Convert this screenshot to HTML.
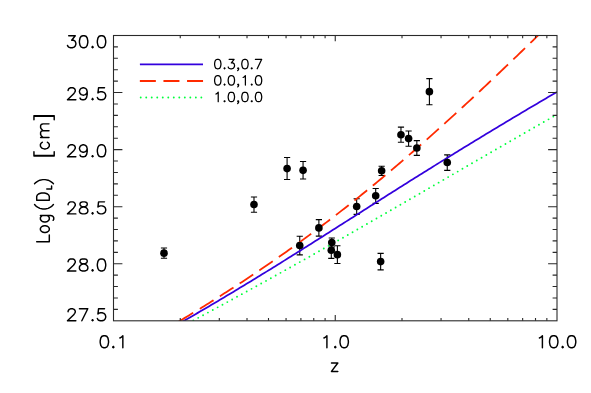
<!DOCTYPE html>
<html><head><meta charset="utf-8"><style>html,body{margin:0;padding:0;background:#fff;font-family:"Liberation Sans",sans-serif}svg{display:block}</style></head><body><svg width="591" height="393" viewBox="0 0 591 393">
<rect width="591" height="393" fill="#fff"/>
<defs><clipPath id="cp"><rect x="113.50" y="35.50" width="443.50" height="285.30"/></clipPath></defs>
<path d="M163.99 247.95V258.23 M160.89 247.95h6.2 M160.89 258.23h6.2 M253.99 197.00V212.26 M250.89 197.00h6.2 M250.89 212.26h6.2 M287.09 157.43V179.50 M283.99 157.43h6.2 M283.99 179.50h6.2 M303.06 161.50V179.00 M299.96 161.50h6.2 M299.96 179.00h6.2 M299.75 236.30V254.84 M296.65 236.30h6.2 M296.65 254.84h6.2 M318.88 219.58V236.16 M315.78 219.58h6.2 M315.78 236.16h6.2 M331.80 238.05V247.00 M328.70 238.05h6.2 M328.70 247.00h6.2 M331.29 242.00V258.40 M328.19 242.00h6.2 M328.19 258.40h6.2 M337.39 245.68V263.48 M334.29 245.68h6.2 M334.29 263.48h6.2 M356.67 198.80V214.40 M353.57 198.80h6.2 M353.57 214.40h6.2 M375.70 188.44V203.40 M372.60 188.44h6.2 M372.60 203.40h6.2 M380.64 253.34V269.92 M377.54 253.34h6.2 M377.54 269.92h6.2 M381.65 166.28V175.43 M378.55 166.28h6.2 M378.55 175.43h6.2 M400.97 127.10V142.20 M397.87 127.10h6.2 M397.87 142.20h6.2 M408.60 131.00V146.25 M405.50 131.00h6.2 M405.50 146.25h6.2 M416.84 140.65V155.40 M413.74 140.65h6.2 M413.74 155.40h6.2 M429.40 78.65V104.80 M426.30 78.65h6.2 M426.30 104.80h6.2 M447.26 154.87V170.40 M444.16 154.87h6.2 M444.16 170.40h6.2" fill="none" stroke="#000" stroke-width="1.1"/>
<g clip-path="url(#cp)" fill="none">
<polyline points="193.36,320.45 195.55,319.28 197.76,318.08 199.98,316.89 202.20,315.70 204.42,314.50 206.63,313.30 208.85,312.11 211.07,310.91 213.29,309.71 215.50,308.51 217.72,307.31 219.94,306.10 222.16,304.90 224.38,303.70 226.59,302.49 228.81,301.28 231.03,300.08 233.25,298.87 235.46,297.66 237.68,296.45 239.90,295.23 242.11,294.02 244.33,292.81 246.55,291.59 248.77,290.38 250.98,289.16 253.20,287.94 255.42,286.72 257.64,285.50 259.86,284.28 262.07,283.06 264.29,281.83 266.51,280.61 268.73,279.38 270.94,278.15 273.16,276.92 275.38,275.69 277.60,274.46 279.81,273.23 282.03,272.00 284.25,270.76 286.47,269.53 288.68,268.29 290.90,267.06 293.12,265.82 295.34,264.58 297.55,263.34 299.77,262.09 301.99,260.85 304.20,259.61 306.42,258.36 308.64,257.11 310.86,255.87 313.08,254.62 315.29,253.37 317.51,252.12 319.73,250.87 321.95,249.61 324.16,248.36 326.38,247.10 328.60,245.85 330.81,244.59 333.03,243.33 335.25,242.07 337.47,240.81 339.69,239.55 341.90,238.29 344.12,237.03 346.34,235.77 348.56,234.50 350.77,233.24 352.99,231.97 355.21,230.70 357.43,229.44 359.64,228.17 361.86,226.90 364.08,225.63 366.30,224.36 368.51,223.08 370.73,221.81 372.95,220.54 375.16,219.27 377.38,217.99 379.60,216.72 381.82,215.44 384.03,214.16 386.25,212.89 388.47,211.61 390.69,210.33 392.91,209.05 395.12,207.77 397.34,206.50 399.56,205.22 401.78,203.94 403.99,202.65 406.21,201.37 408.43,200.09 410.65,198.81 412.86,197.53 415.08,196.25 417.30,194.96 419.52,193.68 421.73,192.40 423.95,191.12 426.17,189.83 428.38,188.55 430.60,187.26 432.82,185.98 435.04,184.70 437.25,183.41 439.47,182.13 441.69,180.85 443.91,179.56 446.12,178.28 448.34,176.99 450.56,175.71 452.78,174.43 455.00,173.14 457.21,171.86 459.43,170.58 461.65,169.29 463.87,168.01 466.08,166.73 468.30,165.45 470.52,164.16 472.74,162.88 474.95,161.60 477.17,160.32 479.39,159.04 481.61,157.76 483.82,156.48 486.04,155.20 488.26,153.92 490.47,152.64 492.69,151.36 494.91,150.08 497.13,148.80 499.34,147.53 501.56,146.25 503.78,144.97 506.00,143.70 508.22,142.42 510.43,141.15 512.65,139.87 514.87,138.60 517.09,137.32 519.30,136.05 521.52,134.78 523.74,133.51 525.96,132.24 528.17,130.97 530.39,129.70 532.61,128.43 534.83,127.16 537.04,125.89 539.26,124.62 541.48,123.36 543.69,122.09 545.91,120.83 548.13,119.56 550.35,118.30 552.57,117.03 554.78,115.77 557.00,114.51" stroke="#00ff3c" stroke-width="1.9" stroke-linecap="round" stroke-dasharray="0 5.516"/>
<polyline points="113.50,360.47 115.72,359.25 117.94,358.03 120.15,356.81 122.37,355.59 124.59,354.36 126.81,353.13 129.02,351.91 131.24,350.68 133.46,349.44 135.67,348.21 137.89,346.98 140.11,345.74 142.33,344.50 144.55,343.26 146.76,342.02 148.98,340.77 151.20,339.53 153.41,338.28 155.63,337.03 157.85,335.78 160.07,334.52 162.28,333.27 164.50,332.01 166.72,330.75 168.94,329.49 171.16,328.22 173.37,326.96 175.59,325.69 177.81,324.42 180.03,323.14 182.24,321.87 184.46,320.59 186.68,319.31 188.90,318.03 191.11,316.74 193.33,315.46 195.55,314.17 197.76,312.88 199.98,311.58 202.20,310.29 204.42,308.99 206.63,307.69 208.85,306.38 211.07,305.08 213.29,303.77 215.50,302.46 217.72,301.14 219.94,299.83 222.16,298.51 224.38,297.19 226.59,295.87 228.81,294.54 231.03,293.21 233.25,291.88 235.46,290.55 237.68,289.21 239.90,287.87 242.11,286.53 244.33,285.19 246.55,283.85 248.77,282.50 250.98,281.15 253.20,279.80 255.42,278.44 257.64,277.08 259.86,275.72 262.07,274.36 264.29,273.00 266.51,271.63 268.73,270.26 270.94,268.89 273.16,267.52 275.38,266.15 277.60,264.77 279.81,263.39 282.03,262.01 284.25,260.63 286.47,259.24 288.68,257.86 290.90,256.47 293.12,255.08 295.34,253.69 297.55,252.30 299.77,250.90 301.99,249.51 304.20,248.11 306.42,246.71 308.64,245.31 310.86,243.91 313.08,242.51 315.29,241.10 317.51,239.70 319.73,238.29 321.95,236.89 324.16,235.48 326.38,234.07 328.60,232.66 330.81,231.25 333.03,229.84 335.25,228.43 337.47,227.02 339.69,225.61 341.90,224.20 344.12,222.79 346.34,221.37 348.56,219.96 350.77,218.55 352.99,217.14 355.21,215.72 357.43,214.31 359.64,212.90 361.86,211.49 364.08,210.08 366.30,208.67 368.51,207.26 370.73,205.85 372.95,204.44 375.16,203.03 377.38,201.62 379.60,200.21 381.82,198.81 384.03,197.40 386.25,196.00 388.47,194.59 390.69,193.19 392.91,191.79 395.12,190.39 397.34,188.99 399.56,187.59 401.78,186.19 403.99,184.80 406.21,183.40 408.43,182.01 410.65,180.61 412.86,179.22 415.08,177.83 417.30,176.44 419.52,175.05 421.73,173.67 423.95,172.28 426.17,170.90 428.38,169.52 430.60,168.14 432.82,166.76 435.04,165.38 437.25,164.00 439.47,162.63 441.69,161.26 443.91,159.88 446.12,158.51 448.34,157.14 450.56,155.78 452.78,154.41 455.00,153.05 457.21,151.68 459.43,150.32 461.65,148.96 463.87,147.60 466.08,146.25 468.30,144.89 470.52,143.54 472.74,142.19 474.95,140.84 477.17,139.49 479.39,138.14 481.61,136.79 483.82,135.45 486.04,134.11 488.26,132.77 490.47,131.43 492.69,130.09 494.91,128.75 497.13,127.41 499.34,126.08 501.56,124.75 503.78,123.42 506.00,122.09 508.22,120.76 510.43,119.43 512.65,118.11 514.87,116.78 517.09,115.46 519.30,114.14 521.52,112.82 523.74,111.50 525.96,110.19 528.17,108.87 530.39,107.56 532.61,106.25 534.83,104.94 537.04,103.63 539.26,102.32 541.48,101.01 543.69,99.71 545.91,98.40 548.13,97.10 550.35,95.80 552.57,94.50 554.78,93.20 557.00,91.91" stroke="#3300dd" stroke-width="1.75"/>
<polyline points="170.00,326.77 171.16,326.09 173.37,324.77 175.59,323.45 177.81,322.12 180.03,320.79 182.24,319.46 184.46,318.12 186.68,316.78 188.90,315.44 191.11,314.09 193.20,312.82" stroke="#ff2a00" stroke-width="1.8"/>
<polyline points="199.80,308.77 199.98,308.66 202.20,307.29 204.42,305.92 206.63,304.54 208.85,303.16 211.07,301.77 213.29,300.38 215.50,298.99 217.72,297.59 219.94,296.19 222.16,294.78 224.38,293.36 226.59,291.95 228.81,290.52 231.03,289.10 233.25,287.66 235.46,286.23 237.68,284.78 239.90,283.34 242.11,281.88 244.33,280.43 246.55,278.96 248.77,277.49 250.98,276.02 253.20,274.54 255.42,273.05 257.64,271.56 259.86,270.07 262.07,268.56 264.29,267.06 266.51,265.54 268.73,264.02 270.94,262.50 273.16,260.97 275.38,259.43 277.60,257.89 279.81,256.34 282.03,254.78 284.25,253.22 286.47,251.66 288.68,250.08 290.90,248.50 293.12,246.92 295.34,245.32 297.55,243.73 299.77,242.12 301.99,240.51 304.20,238.89 306.42,237.27 308.64,235.64 310.86,234.00 313.08,232.36 315.29,230.71 317.51,229.05 319.73,227.39 321.95,225.72 324.16,224.05 326.38,222.36 328.60,220.68 330.81,218.98 333.03,217.28 335.25,215.57 337.47,213.85 339.69,212.13 341.90,210.40 344.12,208.67 346.34,206.93 348.56,205.18 350.77,203.43 352.99,201.66 355.21,199.90 357.43,198.12 359.64,196.34 361.86,194.56 364.08,192.76 366.30,190.96 368.51,189.16 370.73,187.34 372.95,185.53 375.16,183.70 377.38,181.87 379.60,180.03 381.82,178.19 384.03,176.34 386.25,174.48 388.47,172.62 390.69,170.75 392.91,168.87 395.12,166.99 397.34,165.11 399.56,163.21 401.78,161.32 403.99,159.41 406.21,157.50 408.43,155.59 410.65,153.66 412.86,151.74 415.08,149.80 417.30,147.87 419.52,145.92 421.73,143.97 423.95,142.02 426.17,140.06 428.38,138.09 430.60,136.12 432.82,134.15 435.04,132.16 437.25,130.18 439.47,128.19 441.69,126.19 443.91,124.19 446.12,122.18 448.34,120.17 450.56,118.16 452.78,116.14 455.00,114.11 457.21,112.08 459.43,110.05 461.65,108.01 463.87,105.97 466.08,103.92 468.30,101.87 470.52,99.82 472.74,97.76 474.95,95.69 477.17,93.63 479.39,91.55 481.61,89.48 483.82,87.40 486.04,85.32 488.26,83.23 490.47,81.14 492.69,79.04 494.91,76.95 497.13,74.84 499.34,72.74 501.56,70.63 503.78,68.52 506.00,66.40 508.22,64.29 510.43,62.16 512.65,60.04 514.87,57.91 517.09,55.78 519.30,53.65 521.52,51.51 523.74,49.37 525.96,47.23 528.17,45.08 530.39,42.93 532.61,40.78 534.83,38.63 537.04,36.47 539.26,34.32 541.48,32.15 543.69,29.99 545.91,27.82 548.13,25.66 550.35,23.49 552.57,21.31 554.78,19.14 557.00,16.96" stroke="#ff2a00" stroke-width="1.8" stroke-dasharray="16.20 7.42"/>
</g>
<circle cx="163.99" cy="253.14" r="3.8" fill="#000"/>
<circle cx="253.99" cy="204.53" r="3.8" fill="#000"/>
<circle cx="287.09" cy="168.62" r="3.8" fill="#000"/>
<circle cx="303.06" cy="170.35" r="3.8" fill="#000"/>
<circle cx="299.75" cy="245.48" r="3.8" fill="#000"/>
<circle cx="318.88" cy="227.92" r="3.8" fill="#000"/>
<circle cx="331.80" cy="242.60" r="3.8" fill="#000"/>
<circle cx="331.29" cy="250.20" r="3.8" fill="#000"/>
<circle cx="337.39" cy="254.63" r="3.8" fill="#000"/>
<circle cx="356.67" cy="206.45" r="3.8" fill="#000"/>
<circle cx="375.70" cy="195.77" r="3.8" fill="#000"/>
<circle cx="380.64" cy="261.58" r="3.8" fill="#000"/>
<circle cx="381.65" cy="170.85" r="3.8" fill="#000"/>
<circle cx="400.97" cy="134.75" r="3.8" fill="#000"/>
<circle cx="408.60" cy="138.60" r="3.8" fill="#000"/>
<circle cx="416.84" cy="147.98" r="3.8" fill="#000"/>
<circle cx="429.40" cy="91.67" r="3.8" fill="#000"/>
<circle cx="447.26" cy="162.50" r="3.8" fill="#000"/>
<rect x="113.50" y="35.50" width="443.50" height="285.30" fill="none" stroke="#2a2a2a" stroke-width="1.1"/>
<path d="M180.25 320.80v-2.85 M180.25 35.50v2.85 M219.30 320.80v-2.85 M219.30 35.50v2.85 M247.01 320.80v-2.85 M247.01 35.50v2.85 M268.50 320.80v-2.85 M268.50 35.50v2.85 M286.06 320.80v-2.85 M286.06 35.50v2.85 M300.90 320.80v-2.85 M300.90 35.50v2.85 M313.76 320.80v-2.85 M313.76 35.50v2.85 M325.10 320.80v-2.85 M325.10 35.50v2.85 M335.25 320.80v-5.70 M335.25 35.50v5.70 M402.00 320.80v-2.85 M402.00 35.50v2.85 M441.05 320.80v-2.85 M441.05 35.50v2.85 M468.76 320.80v-2.85 M468.76 35.50v2.85 M490.25 320.80v-2.85 M490.25 35.50v2.85 M507.81 320.80v-2.85 M507.81 35.50v2.85 M522.65 320.80v-2.85 M522.65 35.50v2.85 M535.51 320.80v-2.85 M535.51 35.50v2.85 M546.85 320.80v-2.85 M546.85 35.50v2.85 M113.50 309.39h4.40 M557.00 309.39h-4.40 M113.50 297.98h4.40 M557.00 297.98h-4.40 M113.50 286.56h4.40 M557.00 286.56h-4.40 M113.50 275.15h4.40 M557.00 275.15h-4.40 M113.50 263.74h8.90 M557.00 263.74h-8.90 M113.50 252.33h4.40 M557.00 252.33h-4.40 M113.50 240.92h4.40 M557.00 240.92h-4.40 M113.50 229.50h4.40 M557.00 229.50h-4.40 M113.50 218.09h4.40 M557.00 218.09h-4.40 M113.50 206.68h8.90 M557.00 206.68h-8.90 M113.50 195.27h4.40 M557.00 195.27h-4.40 M113.50 183.86h4.40 M557.00 183.86h-4.40 M113.50 172.44h4.40 M557.00 172.44h-4.40 M113.50 161.03h4.40 M557.00 161.03h-4.40 M113.50 149.62h8.90 M557.00 149.62h-8.90 M113.50 138.21h4.40 M557.00 138.21h-4.40 M113.50 126.80h4.40 M557.00 126.80h-4.40 M113.50 115.38h4.40 M557.00 115.38h-4.40 M113.50 103.97h4.40 M557.00 103.97h-4.40 M113.50 92.56h8.90 M557.00 92.56h-8.90 M113.50 81.15h4.40 M557.00 81.15h-4.40 M113.50 69.74h4.40 M557.00 69.74h-4.40 M113.50 58.32h4.40 M557.00 58.32h-4.40 M113.50 46.91h4.40 M557.00 46.91h-4.40" fill="none" stroke="#2a2a2a" stroke-width="1.1"/>
<path d="M68.10 311.65 L68.10 311.08 L68.70 309.93 L69.29 309.36 L70.49 308.79 L72.87 308.79 L74.07 309.36 L74.67 309.93 L75.26 311.08 L75.26 312.22 L74.67 313.36 L73.47 315.08 L67.50 320.80 L75.86 320.80 M87.80 308.79 L81.83 320.80 M79.44 308.79 L87.80 308.79 M92.58 319.66 L91.98 320.23 L92.58 320.80 L93.17 320.23 L92.58 319.66 M104.52 308.79 L98.55 308.79 L97.95 313.94 L98.55 313.36 L100.34 312.79 L102.13 312.79 L103.92 313.36 L105.11 314.51 L105.71 316.22 L105.71 317.37 L105.11 319.08 L103.92 320.23 L102.13 320.80 L100.34 320.80 L98.55 320.23 L97.95 319.66 L97.35 318.51 M68.10 261.79 L68.10 261.22 L68.70 260.07 L69.29 259.50 L70.49 258.93 L72.87 258.93 L74.07 259.50 L74.67 260.07 L75.26 261.22 L75.26 262.36 L74.67 263.50 L73.47 265.22 L67.50 270.94 L75.86 270.94 M82.43 258.93 L80.64 259.50 L80.04 260.64 L80.04 261.79 L80.64 262.93 L81.83 263.50 L84.22 264.08 L86.01 264.65 L87.20 265.79 L87.80 266.94 L87.80 268.65 L87.20 269.80 L86.61 270.37 L84.81 270.94 L82.43 270.94 L80.64 270.37 L80.04 269.80 L79.44 268.65 L79.44 266.94 L80.04 265.79 L81.23 264.65 L83.02 264.08 L85.41 263.50 L86.61 262.93 L87.20 261.79 L87.20 260.64 L86.61 259.50 L84.81 258.93 L82.43 258.93 M92.58 269.80 L91.98 270.37 L92.58 270.94 L93.17 270.37 L92.58 269.80 M100.93 258.93 L99.14 259.50 L97.95 261.22 L97.35 264.08 L97.35 265.79 L97.95 268.65 L99.14 270.37 L100.93 270.94 L102.13 270.94 L103.92 270.37 L105.11 268.65 L105.71 265.79 L105.71 264.08 L105.11 261.22 L103.92 259.50 L102.13 258.93 L100.93 258.93 M68.10 204.73 L68.10 204.16 L68.70 203.01 L69.29 202.44 L70.49 201.87 L72.87 201.87 L74.07 202.44 L74.67 203.01 L75.26 204.16 L75.26 205.30 L74.67 206.44 L73.47 208.16 L67.50 213.88 L75.86 213.88 M82.43 201.87 L80.64 202.44 L80.04 203.58 L80.04 204.73 L80.64 205.87 L81.83 206.44 L84.22 207.02 L86.01 207.59 L87.20 208.73 L87.80 209.88 L87.80 211.59 L87.20 212.74 L86.61 213.31 L84.81 213.88 L82.43 213.88 L80.64 213.31 L80.04 212.74 L79.44 211.59 L79.44 209.88 L80.04 208.73 L81.23 207.59 L83.02 207.02 L85.41 206.44 L86.61 205.87 L87.20 204.73 L87.20 203.58 L86.61 202.44 L84.81 201.87 L82.43 201.87 M92.58 212.74 L91.98 213.31 L92.58 213.88 L93.17 213.31 L92.58 212.74 M104.52 201.87 L98.55 201.87 L97.95 207.02 L98.55 206.44 L100.34 205.87 L102.13 205.87 L103.92 206.44 L105.11 207.59 L105.71 209.30 L105.71 210.45 L105.11 212.16 L103.92 213.31 L102.13 213.88 L100.34 213.88 L98.55 213.31 L97.95 212.74 L97.35 211.59 M68.10 147.67 L68.10 147.10 L68.70 145.95 L69.29 145.38 L70.49 144.81 L72.87 144.81 L74.07 145.38 L74.67 145.95 L75.26 147.10 L75.26 148.24 L74.67 149.38 L73.47 151.10 L67.50 156.82 L75.86 156.82 M87.20 148.81 L86.61 150.53 L85.41 151.67 L83.62 152.24 L83.02 152.24 L81.23 151.67 L80.04 150.53 L79.44 148.81 L79.44 148.24 L80.04 146.52 L81.23 145.38 L83.02 144.81 L83.62 144.81 L85.41 145.38 L86.61 146.52 L87.20 148.81 L87.20 151.67 L86.61 154.53 L85.41 156.25 L83.62 156.82 L82.43 156.82 L80.64 156.25 L80.04 155.10 M92.58 155.68 L91.98 156.25 L92.58 156.82 L93.17 156.25 L92.58 155.68 M100.93 144.81 L99.14 145.38 L97.95 147.10 L97.35 149.96 L97.35 151.67 L97.95 154.53 L99.14 156.25 L100.93 156.82 L102.13 156.82 L103.92 156.25 L105.11 154.53 L105.71 151.67 L105.71 149.96 L105.11 147.10 L103.92 145.38 L102.13 144.81 L100.93 144.81 M68.10 90.61 L68.10 90.04 L68.70 88.89 L69.29 88.32 L70.49 87.75 L72.87 87.75 L74.07 88.32 L74.67 88.89 L75.26 90.04 L75.26 91.18 L74.67 92.32 L73.47 94.04 L67.50 99.76 L75.86 99.76 M87.20 91.75 L86.61 93.47 L85.41 94.61 L83.62 95.18 L83.02 95.18 L81.23 94.61 L80.04 93.47 L79.44 91.75 L79.44 91.18 L80.04 89.46 L81.23 88.32 L83.02 87.75 L83.62 87.75 L85.41 88.32 L86.61 89.46 L87.20 91.75 L87.20 94.61 L86.61 97.47 L85.41 99.19 L83.62 99.76 L82.43 99.76 L80.64 99.19 L80.04 98.04 M92.58 98.62 L91.98 99.19 L92.58 99.76 L93.17 99.19 L92.58 98.62 M104.52 87.75 L98.55 87.75 L97.95 92.90 L98.55 92.32 L100.34 91.75 L102.13 91.75 L103.92 92.32 L105.11 93.47 L105.71 95.18 L105.71 96.33 L105.11 98.04 L103.92 99.19 L102.13 99.76 L100.34 99.76 L98.55 99.19 L97.95 98.62 L97.35 97.47 M68.70 35.69 L75.26 35.69 L71.68 40.26 L73.47 40.26 L74.67 40.84 L75.26 41.41 L75.86 43.12 L75.86 44.27 L75.26 45.98 L74.07 47.13 L72.28 47.70 L70.49 47.70 L68.70 47.13 L68.10 46.56 L67.50 45.41 M83.02 35.69 L81.23 36.26 L80.04 37.98 L79.44 40.84 L79.44 42.55 L80.04 45.41 L81.23 47.13 L83.02 47.70 L84.22 47.70 L86.01 47.13 L87.20 45.41 L87.80 42.55 L87.80 40.84 L87.20 37.98 L86.01 36.26 L84.22 35.69 L83.02 35.69 M92.58 46.56 L91.98 47.13 L92.58 47.70 L93.17 47.13 L92.58 46.56 M100.93 35.69 L99.14 36.26 L97.95 37.98 L97.35 40.84 L97.35 42.55 L97.95 45.41 L99.14 47.13 L100.93 47.70 L102.13 47.70 L103.92 47.13 L105.11 45.41 L105.71 42.55 L105.71 40.84 L105.11 37.98 L103.92 36.26 L102.13 35.69 L100.93 35.69 M103.76 335.69 L101.98 336.26 L100.78 337.98 L100.19 340.84 L100.19 342.55 L100.78 345.41 L101.98 347.13 L103.76 347.70 L104.96 347.70 L106.74 347.13 L107.94 345.41 L108.53 342.55 L108.53 340.84 L107.94 337.98 L106.74 336.26 L104.96 335.69 L103.76 335.69 M113.30 346.56 L112.70 347.13 L113.30 347.70 L113.90 347.13 L113.30 346.56 M119.86 337.98 L121.05 337.40 L122.84 335.69 L122.84 347.70 M323.93 337.98 L325.12 337.40 L326.91 335.69 L326.91 347.70 M335.25 346.56 L334.65 347.13 L335.25 347.70 L335.85 347.13 L335.25 346.56 M343.59 335.69 L341.81 336.26 L340.61 337.98 L340.02 340.84 L340.02 342.55 L340.61 345.41 L341.81 347.13 L343.59 347.70 L344.79 347.70 L346.57 347.13 L347.77 345.41 L348.36 342.55 L348.36 340.84 L347.77 337.98 L346.57 336.26 L344.79 335.69 L343.59 335.69 M539.42 337.98 L540.61 337.40 L542.40 335.69 L542.40 347.70 M553.12 335.69 L551.34 336.26 L550.14 337.98 L549.55 340.84 L549.55 342.55 L550.14 345.41 L551.34 347.13 L553.12 347.70 L554.32 347.70 L556.10 347.13 L557.30 345.41 L557.89 342.55 L557.89 340.84 L557.30 337.98 L556.10 336.26 L554.32 335.69 L553.12 335.69 M562.66 346.56 L562.06 347.13 L562.66 347.70 L563.26 347.13 L562.66 346.56 M571.00 335.69 L569.22 336.26 L568.02 337.98 L567.43 340.84 L567.43 342.55 L568.02 345.41 L569.22 347.13 L571.00 347.70 L572.20 347.70 L573.98 347.13 L575.18 345.41 L575.77 342.55 L575.77 340.84 L575.18 337.98 L573.98 336.26 L572.20 335.69 L571.00 335.69 M337.81 363.00 L331.49 371.40 M331.49 363.00 L337.81 363.00 M331.49 371.40 L337.81 371.40" fill="none" stroke="#000" stroke-width="1.45" stroke-linecap="round" stroke-linejoin="round"/>
<path d="M217.32 59.30 L215.96 59.75 L215.05 61.10 L214.60 63.35 L214.60 64.70 L215.05 66.95 L215.96 68.30 L217.32 68.75 L218.22 68.75 L219.58 68.30 L220.49 66.95 L220.94 64.70 L220.94 63.35 L220.49 61.10 L219.58 59.75 L218.22 59.30 L217.32 59.30 M224.56 67.85 L224.11 68.30 L224.56 68.75 L225.02 68.30 L224.56 67.85 M229.09 59.30 L234.08 59.30 L231.36 62.90 L232.72 62.90 L233.62 63.35 L234.08 63.80 L234.53 65.15 L234.53 66.05 L234.08 67.40 L233.17 68.30 L231.81 68.75 L230.45 68.75 L229.09 68.30 L228.64 67.85 L228.19 66.95 M238.61 68.30 L238.16 68.75 L237.70 68.30 L238.16 67.85 L238.61 68.30 L238.61 69.20 L238.16 70.10 L237.70 70.55 M244.50 59.30 L243.14 59.75 L242.23 61.10 L241.78 63.35 L241.78 64.70 L242.23 66.95 L243.14 68.30 L244.50 68.75 L245.40 68.75 L246.76 68.30 L247.67 66.95 L248.12 64.70 L248.12 63.35 L247.67 61.10 L246.76 59.75 L245.40 59.30 L244.50 59.30 M251.75 67.85 L251.29 68.30 L251.75 68.75 L252.20 68.30 L251.75 67.85 M261.71 59.30 L257.18 68.75 M255.37 59.30 L261.71 59.30 M217.32 75.65 L215.96 76.10 L215.05 77.45 L214.60 79.70 L214.60 81.05 L215.05 83.30 L215.96 84.65 L217.32 85.10 L218.22 85.10 L219.58 84.65 L220.49 83.30 L220.94 81.05 L220.94 79.70 L220.49 77.45 L219.58 76.10 L218.22 75.65 L217.32 75.65 M224.56 84.20 L224.11 84.65 L224.56 85.10 L225.02 84.65 L224.56 84.20 M230.91 75.65 L229.55 76.10 L228.64 77.45 L228.19 79.70 L228.19 81.05 L228.64 83.30 L229.55 84.65 L230.91 85.10 L231.81 85.10 L233.17 84.65 L234.08 83.30 L234.53 81.05 L234.53 79.70 L234.08 77.45 L233.17 76.10 L231.81 75.65 L230.91 75.65 M238.61 84.65 L238.16 85.10 L237.70 84.65 L238.16 84.20 L238.61 84.65 L238.61 85.55 L238.16 86.45 L237.70 86.90 M243.14 77.45 L244.04 77.00 L245.40 75.65 L245.40 85.10 M251.75 84.20 L251.29 84.65 L251.75 85.10 L252.20 84.65 L251.75 84.20 M258.09 75.65 L256.73 76.10 L255.82 77.45 L255.37 79.70 L255.37 81.05 L255.82 83.30 L256.73 84.65 L258.09 85.10 L258.99 85.10 L260.35 84.65 L261.26 83.30 L261.71 81.05 L261.71 79.70 L261.26 77.45 L260.35 76.10 L258.99 75.65 L258.09 75.65 M215.96 94.05 L216.86 93.60 L218.22 92.25 L218.22 101.70 M224.56 100.80 L224.11 101.25 L224.56 101.70 L225.02 101.25 L224.56 100.80 M230.91 92.25 L229.55 92.70 L228.64 94.05 L228.19 96.30 L228.19 97.65 L228.64 99.90 L229.55 101.25 L230.91 101.70 L231.81 101.70 L233.17 101.25 L234.08 99.90 L234.53 97.65 L234.53 96.30 L234.08 94.05 L233.17 92.70 L231.81 92.25 L230.91 92.25 M238.61 101.25 L238.16 101.70 L237.70 101.25 L238.16 100.80 L238.61 101.25 L238.61 102.15 L238.16 103.05 L237.70 103.50 M244.50 92.25 L243.14 92.70 L242.23 94.05 L241.78 96.30 L241.78 97.65 L242.23 99.90 L243.14 101.25 L244.50 101.70 L245.40 101.70 L246.76 101.25 L247.67 99.90 L248.12 97.65 L248.12 96.30 L247.67 94.05 L246.76 92.70 L245.40 92.25 L244.50 92.25 M251.75 100.80 L251.29 101.25 L251.75 101.70 L252.20 101.25 L251.75 100.80 M258.09 92.25 L256.73 92.70 L255.82 94.05 L255.37 96.30 L255.37 97.65 L255.82 99.90 L256.73 101.25 L258.09 101.70 L258.99 101.70 L260.35 101.25 L261.26 99.90 L261.71 97.65 L261.71 96.30 L261.26 94.05 L260.35 92.70 L258.99 92.25 L258.09 92.25" fill="none" stroke="#000" stroke-width="1.25" stroke-linecap="round" stroke-linejoin="round"/>
<path d="M139.9 64.3H203" stroke="#3300dd" stroke-width="1.85" fill="none"/>
<path d="M139.85 80.9H203.05" stroke="#ff2a00" stroke-width="2.0" stroke-dasharray="16 7.6" fill="none"/>
<path d="M140.72 97.55H202.5" stroke="#00ff3c" stroke-width="1.9" stroke-linecap="round" stroke-dasharray="0 5.512" fill="none"/>
<path d="M36.70 241.80 L49.30 241.80 M49.30 241.80 L49.30 234.96 M40.41 229.90 L41.04 230.94 L42.31 231.98 L44.22 232.50 L45.49 232.50 L47.39 231.98 L48.66 230.94 L49.30 229.90 L49.30 228.34 L48.66 227.30 L47.39 226.26 L45.49 225.74 L44.22 225.74 L42.31 226.26 L41.04 227.30 L40.41 228.34 L40.41 229.90 M40.41 215.50 L50.57 215.50 L52.47 216.04 L53.11 216.58 L53.74 217.66 L53.74 219.28 L53.11 220.36 M42.31 215.50 L41.04 216.58 L40.41 217.66 L40.41 219.28 L41.04 220.36 L42.31 221.44 L44.22 221.98 L45.49 221.98 L47.39 221.44 L48.66 220.36 L49.30 219.28 L49.30 217.66 L48.66 216.58 L47.39 215.50 M34.55 204.59 L35.73 205.85 L37.50 207.11 L39.86 208.37 L42.81 209.00 L45.17 209.00 L48.12 208.37 L50.48 207.11 L52.25 205.85 L53.43 204.59 M36.70 200.20 L49.30 200.20 M36.70 200.20 L36.70 196.61 L37.30 195.06 L38.50 194.04 L39.70 193.52 L41.50 193.01 L44.50 193.01 L46.30 193.52 L47.50 194.04 L48.70 195.06 L49.30 196.61 L49.30 200.20 M46.77 189.00 L51.60 189.00 M51.60 189.00 L51.60 186.00 M34.55 183.80 L35.73 182.60 L37.50 181.40 L39.86 180.20 L42.81 179.60 L45.17 179.60 L48.12 180.20 L50.48 181.40 L52.25 182.60 L53.43 183.80 M33.95 156.00 L54.20 156.00 M33.95 155.40 L54.20 155.40 M33.95 156.00 L33.95 151.80 M54.20 156.00 L54.20 151.80 M42.31 142.18 L41.04 143.30 L40.41 144.42 L40.41 146.10 L41.04 147.22 L42.31 148.34 L44.22 148.90 L45.49 148.90 L47.39 148.34 L48.66 147.22 L49.30 146.10 L49.30 144.42 L48.66 143.30 L47.39 142.18 M40.60 137.50 L49.00 137.50 M43.00 137.50 L41.20 135.64 L40.60 134.40 L40.60 132.54 L41.20 131.30 L43.00 130.68 L49.00 130.68 M43.00 130.68 L41.20 128.82 L40.60 127.58 L40.60 125.72 L41.20 124.48 L43.00 123.86 L49.00 123.86 M33.95 116.20 L54.20 116.20 M33.95 115.60 L54.20 115.60 M33.95 119.80 L33.95 115.60 M54.20 119.80 L54.20 115.60" fill="none" stroke="#000" stroke-width="1.45" stroke-linecap="round" stroke-linejoin="round"/>
</svg></body></html>
